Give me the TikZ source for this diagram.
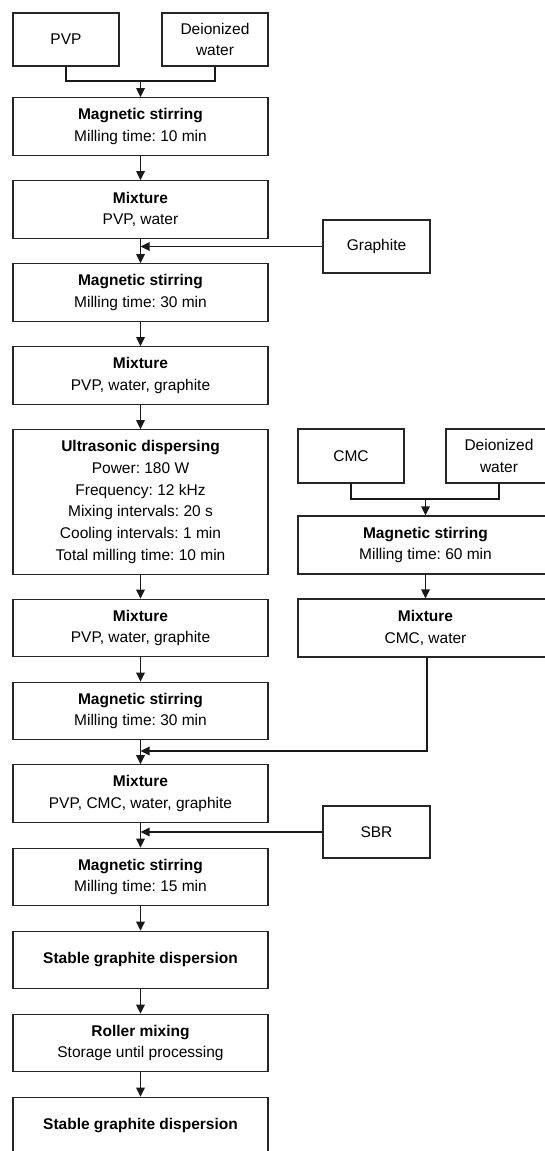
\documentclass[tikz,border=0pt]{standalone}
\usepackage{fontspec}
\setmainfont{Liberation Sans}
\usetikzlibrary{arrows.meta}
\frenchspacing
\begin{document}
\begin{tikzpicture}[x=1pt,y=-1pt,
  box/.style={draw=black!85, line width=1.3pt, rectangle, align=center, inner sep=0pt,
    font=\frenchspacing\fontsize{15.5}{21.7}\selectfont, fill=white},
  wide/.style={box, minimum width=255pt, minimum height=57.5pt},
  small/.style={box, minimum width=106pt, minimum height=53pt},
  side/.style={box, minimum width=107pt, minimum height=53pt},
  conn/.style={draw=black!90, line width=1.4pt},
  arr/.style={conn, -{Triangle[width=8.5pt,length=9pt]}}]
\useasboundingbox (0,0) rectangle (545,1151);
\clip (0,0) rectangle (545,1151);
\fill[white] (0,0) rectangle (545,1151);

% left column
\node[small] (pvp) at (66,39.5) {PVP};
\node[small] (di) at (215,39.5) {Deionized\\water};
\node[wide] (ms1) at (140.5,126.5) {\textbf{Magnetic stirring}\\Milling time: 10 min};
\node[wide] (mix1) at (140.5,209.5) {\textbf{Mixture}\\PVP, water};
\node[side] (gr) at (376.5,246.5) {Graphite};
\node[wide] (ms2) at (140.5,292.5) {\textbf{Magnetic stirring}\\Milling time: 30 min};
\node[wide] (mix2) at (140.5,375.5) {\textbf{Mixture}\\PVP, water, graphite};
\node[wide, minimum height=144.5pt] (us) at (140.5,502) {\textbf{Ultrasonic dispersing}\\Power: 180 W\\Frequency: 12 kHz\\Mixing intervals: 20 s\\Cooling intervals: 1 min\\Total milling time: 10 min};
\node[wide] (mix3) at (140.5,628) {\textbf{Mixture}\\PVP, water, graphite};
\node[wide] (ms4) at (140.5,711) {\textbf{Magnetic stirring}\\Milling time: 30 min};
\node[wide] (mix4) at (140.5,793.5) {\textbf{Mixture}\\PVP, CMC, water, graphite};
\node[side, minimum height=52pt] (sbr) at (376.5,832) {SBR};
\node[wide] (ms5) at (140.5,877) {\textbf{Magnetic stirring}\\Milling time: 15 min};
\node[wide] (st1) at (140.5,960) {\textbf{Stable graphite dispersion}};
\node[wide] (rol) at (140.5,1043) {\textbf{Roller mixing}\\Storage until processing};
\node[wide] (st2) at (140.5,1126) {\textbf{Stable graphite dispersion}};

% right column
\node[small, minimum height=54pt] (cmc) at (351,456) {CMC};
\node[small, minimum height=54pt] (di2) at (499,456) {Deionized\\water};
\node[wide, minimum height=58pt] (ms3) at (425.5,545) {\textbf{Magnetic stirring}\\Milling time: 60 min};
\node[wide, minimum height=58pt] (mixc) at (425.5,628) {\textbf{Mixture}\\CMC, water};

% junction coordinates
\coordinate (j1) at (140.5,81);
\coordinate (j2) at (425.5,499);
\coordinate (j3) at (140.5,751);

% connectors
\draw[conn] (pvp.south) |- (j1) -| (di.south);
\draw[arr] (j1) -- (ms1.north);
\draw[arr] (ms1) -- (mix1);
\draw[arr] (mix1) -- (ms2);
\draw[arr] (gr.west) -- (gr.west -| mix1.south);
\draw[arr] (ms2) -- (mix2);
\draw[arr] (mix2) -- (us);
\draw[arr] (us) -- (mix3);
\draw[arr] (mix3) -- (ms4);
\draw[arr] (ms4) -- (mix4);
\draw[conn] (cmc.south) |- (j2) -| (di2.south);
\draw[arr] (j2) -- (ms3.north);
\draw[arr] (ms3) -- (mixc);
\draw[arr] ([xshift=1.5pt]mixc.south) |- (j3);
\draw[arr] (mix4) -- (ms5);
\draw[arr] (sbr.west) -- (sbr.west -| mix4.south);
\draw[arr] (ms5) -- (st1);
\draw[arr] (st1) -- (rol);
\draw[arr] (rol) -- (st2);
\end{tikzpicture}
\end{document}
